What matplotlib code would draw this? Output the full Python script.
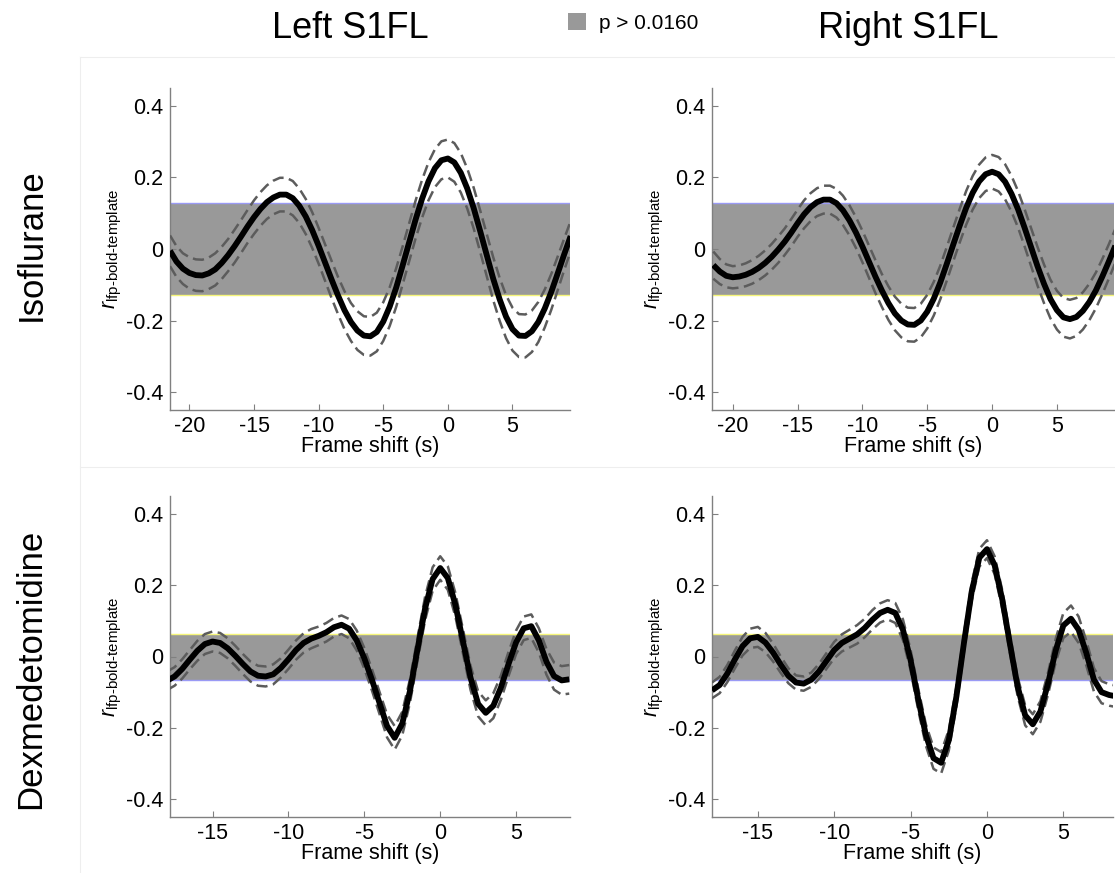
import numpy as np
import matplotlib
matplotlib.use("Agg")
import matplotlib.pyplot as plt
from matplotlib.patches import Patch

plt.rcParams['font.family'] = ['Liberation Sans', 'DejaVu Sans']
plt.rcParams['mathtext.fontset'] = 'custom'
plt.rcParams['mathtext.rm'] = 'Liberation Sans'
plt.rcParams['mathtext.it'] = 'Liberation Sans:italic'
plt.rcParams['axes.unicode_minus'] = False

# frame shifts (s)
x_iso = np.arange(-21.5, 9.51, 0.5)
x_dex = np.arange(-18.0, 8.51, 0.5)

# Isoflurane, left S1FL
iso_left = [-0.005, -0.035, -0.055, -0.067, -0.073, -0.074, -0.068, -0.057, -0.039, -0.017,
            0.008, 0.035, 0.063, 0.089, 0.112, 0.131, 0.144, 0.152, 0.152, 0.142,
            0.121, 0.091, 0.053, 0.009, -0.038, -0.085, -0.130, -0.171, -0.204, -0.228,
            -0.242, -0.244, -0.232, -0.203, -0.161, -0.108, -0.046, 0.018, 0.082, 0.140,
            0.189, 0.226, 0.248, 0.253, 0.242, 0.213, 0.169, 0.114, 0.050, -0.016,
            -0.082, -0.140, -0.189, -0.224, -0.242, -0.243, -0.230, -0.204, -0.166, -0.120,
            -0.068, -0.015, 0.036]
iso_left_sem = [0.043, 0.043, 0.043, 0.044, 0.044, 0.044, 0.044, 0.045, 0.045, 0.045,
                0.046, 0.046, 0.046, 0.047, 0.047, 0.047, 0.047, 0.047, 0.047, 0.048,
                0.048, 0.049, 0.050, 0.050, 0.051, 0.052, 0.052, 0.053, 0.053, 0.054,
                0.054, 0.054, 0.054, 0.054, 0.054, 0.054, 0.053, 0.053, 0.053, 0.053,
                0.053, 0.053, 0.053, 0.053, 0.054, 0.055, 0.056, 0.057, 0.058, 0.059,
                0.060, 0.060, 0.060, 0.060, 0.060, 0.060, 0.058, 0.056, 0.053, 0.050,
                0.047, 0.044, 0.042]

# Isoflurane, right S1FL
iso_right = [-0.045, -0.063, -0.075, -0.079, -0.077, -0.072, -0.064, -0.053, -0.039, -0.022,
             -0.002, 0.020, 0.045, 0.072, 0.097, 0.117, 0.131, 0.138, 0.138, 0.128,
             0.108, 0.080, 0.046, 0.007, -0.035, -0.077, -0.116, -0.151, -0.180, -0.200,
             -0.211, -0.212, -0.200, -0.175, -0.139, -0.094, -0.042, 0.012, 0.065, 0.115,
             0.157, 0.189, 0.209, 0.216, 0.209, 0.188, 0.154, 0.111, 0.060, 0.006,
             -0.048, -0.097, -0.140, -0.171, -0.191, -0.196, -0.190, -0.173, -0.148, -0.116,
             -0.077, -0.035, 0.009]
iso_right_sem = [0.038, 0.035, 0.032, 0.031, 0.031, 0.032, 0.033, 0.034, 0.035, 0.036,
                 0.037, 0.037, 0.038, 0.038, 0.039, 0.039, 0.039, 0.039, 0.039, 0.040,
                 0.041, 0.042, 0.043, 0.044, 0.045, 0.046, 0.046, 0.047, 0.047, 0.047,
                 0.047, 0.047, 0.047, 0.047, 0.047, 0.047, 0.047, 0.047, 0.047, 0.047,
                 0.047, 0.047, 0.047, 0.047, 0.048, 0.049, 0.050, 0.051, 0.052, 0.053,
                 0.054, 0.054, 0.054, 0.054, 0.054, 0.054, 0.053, 0.052, 0.051, 0.050,
                 0.049, 0.048, 0.047]

# Dexmedetomidine, left S1FL
dex_left = [-0.068, -0.056, -0.035, -0.009, 0.016, 0.035, 0.042, 0.038, 0.023, 0.002,
            -0.021, -0.042, -0.054, -0.056, -0.050, -0.032, -0.008, 0.018, 0.038, 0.050,
            0.058, 0.068, 0.082, 0.089, 0.078, 0.045, -0.005, -0.065, -0.130, -0.195,
            -0.228, -0.188, -0.098, 0.019, 0.134, 0.217, 0.248, 0.220, 0.145, 0.042,
            -0.060, -0.133, -0.158, -0.138, -0.087, -0.021, 0.040, 0.079, 0.085, 0.045,
            -0.015, -0.055, -0.067, -0.064]
dex_left_sem = [0.026, 0.026, 0.027, 0.027, 0.028, 0.028, 0.028, 0.028, 0.028, 0.028,
                0.028, 0.028, 0.028, 0.028, 0.028, 0.027, 0.027, 0.027, 0.027, 0.027,
                0.026, 0.026, 0.026, 0.026, 0.027, 0.028, 0.029, 0.030, 0.031, 0.032,
                0.033, 0.033, 0.033, 0.033, 0.033, 0.033, 0.033, 0.033, 0.033, 0.034,
                0.034, 0.035, 0.035, 0.035, 0.034, 0.034, 0.033, 0.033, 0.033, 0.034,
                0.036, 0.038, 0.040, 0.040]

# Dexmedetomidine, right S1FL
dex_right = [-0.095, -0.080, -0.048, -0.008, 0.029, 0.051, 0.055, 0.039, 0.011, -0.023,
             -0.054, -0.073, -0.076, -0.065, -0.042, -0.012, 0.018, 0.038, 0.050, 0.062,
             0.080, 0.103, 0.122, 0.131, 0.122, 0.075, -0.010, -0.120, -0.220, -0.285,
             -0.298, -0.235, -0.112, 0.040, 0.182, 0.277, 0.301, 0.256, 0.160, 0.036,
             -0.083, -0.165, -0.190, -0.154, -0.075, 0.017, 0.087, 0.106, 0.075, 0.010,
             -0.065, -0.100, -0.108, -0.112]
dex_right_sem = [0.022, 0.023, 0.024, 0.025, 0.026, 0.027, 0.028, 0.027, 0.025, 0.023,
                 0.021, 0.020, 0.020, 0.020, 0.021, 0.022, 0.023, 0.024, 0.025, 0.026,
                 0.026, 0.027, 0.027, 0.027, 0.028, 0.029, 0.029, 0.030, 0.030, 0.030,
                 0.030, 0.029, 0.027, 0.026, 0.025, 0.025, 0.025, 0.025, 0.026, 0.026,
                 0.027, 0.028, 0.028, 0.029, 0.031, 0.033, 0.035, 0.037, 0.037, 0.035,
                 0.033, 0.031, 0.030, 0.030]

# significance thresholds (p > 0.0160 band)
iso_band = (-0.128, 0.128)
dex_band = (-0.066, 0.062)

W, H = 1115, 873
fig = plt.figure(figsize=(W / 100, H / 100), dpi=100)

# faint panel borders
fig.add_artist(plt.Line2D([80 / W, 80 / W], [0, 1 - 57 / H], color='#eeeeee', lw=0.8))
fig.add_artist(plt.Line2D([80 / W, 1], [1 - 57 / H, 1 - 57 / H], color='#eeeeee', lw=0.8))
fig.add_artist(plt.Line2D([80 / W, 1], [1 - 467 / H, 1 - 467 / H], color='#eeeeee', lw=0.8))


def panel(rect, x, mean, sem, band, xlim, xticks, band_top_col, band_bot_col):
    ax = fig.add_axes([rect[0] / W, 1 - rect[3] / H, (rect[2] - rect[0]) / W, (rect[3] - rect[1]) / H])
    mean = np.array(mean)
    sem = np.array(sem)
    ax.axhspan(band[0], band[1], color='#999999', lw=0, zorder=1)
    ax.axhline(band[1], color=band_top_col, lw=1, zorder=2)
    ax.axhline(band[0], color=band_bot_col, lw=1, zorder=2)
    ax.plot(x, mean + sem, color='#5c5c5c', lw=1.8, ls=(0, (4.5, 2.2)), zorder=3)
    ax.plot(x, mean - sem, color='#5c5c5c', lw=1.8, ls=(0, (4.5, 2.2)), zorder=3)
    ax.plot(x, mean, color='black', lw=4.2, zorder=4, solid_capstyle='butt')
    ax.set_xlim(*xlim)
    ax.set_ylim(-0.45, 0.45)
    ax.set_xticks(xticks)
    ax.set_xticklabels([str(t) for t in xticks])
    ax.set_yticks([-0.4, -0.2, 0, 0.2, 0.4])
    ax.set_yticklabels(['-0.4', '-0.2', '0', '0.2', '0.4'])
    for s in ['top', 'right']:
        ax.spines[s].set_visible(False)
    for s in ['left', 'bottom']:
        ax.spines[s].set_color('#808080')
        ax.spines[s].set_linewidth(1)
    ax.tick_params(direction='in', length=4, color='#808080', labelsize=15.5, pad=5)
    ax.tick_params(axis='x', pad=4)
    ax.set_xlabel('Frame shift (s)', fontsize=15.5, labelpad=-0.5)
    ax.set_ylabel(r'$r_{\text{lfp-bold-template}}$', fontsize=15.5, labelpad=1)
    ax.set_facecolor('none')
    return ax


blue = '#9a9af5'
yellow = '#f5f57a'
panel((170, 88, 570, 410), x_iso, iso_left, iso_left_sem, iso_band, (-21.5, 9.45),
      [-20, -15, -10, -5, 0, 5], blue, yellow)
panel((712, 88, 1114, 410), x_iso, iso_right, iso_right_sem, iso_band, (-21.6, 9.4),
      [-20, -15, -10, -5, 0, 5], blue, yellow)
panel((170, 496, 570, 817), x_dex, dex_left, dex_left_sem, dex_band, (-17.8, 8.55),
      [-15, -10, -5, 0, 5], yellow, blue)
panel((712, 496, 1113, 817), x_dex, dex_right, dex_right_sem, dex_band, (-18.0, 8.25),
      [-15, -10, -5, 0, 5], yellow, blue)

fig.text(350 / W, 1 - 29 / H, 'Left S1FL', fontsize=26, ha='center', va='center')
fig.text(908 / W, 1 - 29 / H, 'Right S1FL', fontsize=26, ha='center', va='center')
fig.text(31 / W, 1 - 245 / H, 'Isoflurane', fontsize=25, rotation=90, ha='center', va='center')
fig.text(31 / W, 1 - 669 / H, 'Dexmedetomidine', fontsize=25, rotation=90, ha='center', va='center')

fig.legend(handles=[Patch(facecolor='#999999', edgecolor='none', label='p > 0.0160')],
           loc='center', bbox_to_anchor=(633 / W, 1 - 23 / H), frameon=False,
           fontsize=15, handlelength=0.9, handleheight=0.9, handletextpad=0.6)

fig.savefig('out.png', dpi=100)
